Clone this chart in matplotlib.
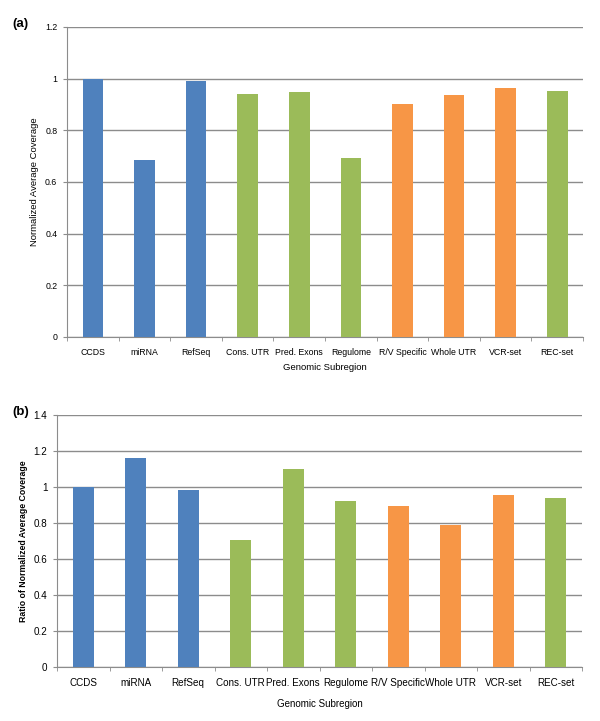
import matplotlib
matplotlib.use('Agg')
import matplotlib.pyplot as plt
import numpy as np

plt.rcParams['font.family'] = ['Liberation Sans', 'DejaVu Sans']

categories = ['CCDS', 'miRNA', 'RefSeq', 'Cons. UTR', 'Pred. Exons', 'Regulome',
              'R/V Specific', 'Whole UTR', 'VCR-set', 'REC-set']
groups = ['blue', 'blue', 'blue', 'green', 'green', 'green',
          'orange', 'orange', 'orange', 'green']
coverage_a = [1.0, 0.685, 0.991, 0.941, 0.950, 0.694, 0.903, 0.938, 0.964, 0.954]
ratio_b = [1.0, 1.163, 0.982, 0.707, 1.100, 0.922, 0.894, 0.789, 0.954, 0.937]

palette = {'blue': '#4F81BD', 'green': '#9BBB59', 'orange': '#F79646'}
colors = [palette[g] for g in groups]

fig = plt.figure(figsize=(6, 7.21), dpi=100)
ax_a = fig.add_axes([0.1117, 0.5326, 0.86, 0.43])
ax_b = fig.add_axes([0.095, 0.0749, 0.875, 0.3495])


def style_axes(ax, vals, ymax, ystep, tick_fs, ylabel, ylabel_bold, label_fs):
    x = np.arange(len(categories))
    ax.bar(x, vals, width=0.4, color=colors, zorder=3)
    ax.set_xlim(-0.5, len(categories) - 0.5)
    ax.set_ylim(0, ymax)
    yt = np.arange(0, ymax + 1e-9, ystep)
    ax.set_yticks(yt)
    ax.set_yticklabels(['%g' % round(v, 1) for v in yt], fontsize=tick_fs)
    ax.yaxis.grid(True, color='#8c8c8c', linewidth=1.0, zorder=0)
    ax.set_axisbelow(True)
    ax.set_xticks(x)
    ax.set_xticklabels(categories, fontsize=tick_fs)
    ax.tick_params(axis='x', which='major', length=0, pad=8)
    ax.set_xticks(np.arange(-0.5, len(categories)), minor=True)
    ax.tick_params(axis='x', which='minor', length=3, color='#8c8c8c')
    ax.tick_params(axis='y', length=3, color='#8c8c8c', pad=4)
    for s in ['top', 'right']:
        ax.spines[s].set_visible(False)
    for s in ['left', 'bottom']:
        ax.spines[s].set_color('#8c8c8c')
    ax.set_xlabel('Genomic Subregion', fontsize=label_fs)
    ax.set_ylabel(ylabel, fontsize=label_fs,
                  fontweight='bold' if ylabel_bold else 'normal')


style_axes(ax_a, coverage_a, 1.2, 0.2, 6.3, 'Normalized Average Coverage', False, 6.8)
style_axes(ax_b, ratio_b, 1.4, 0.2, 7.1, 'Ratio of Normalized Average Coverage', True, 6.3)
ax_b.xaxis.label.set_size(7.0)
ax_b.xaxis.labelpad = 8

fig.text(0.021, 0.967, '(a)', fontsize=9.5, fontweight='bold', va='center')
fig.text(0.021, 0.428, '(b)', fontsize=9.5, fontweight='bold', va='center')

fig.savefig('out.png', dpi=100)
